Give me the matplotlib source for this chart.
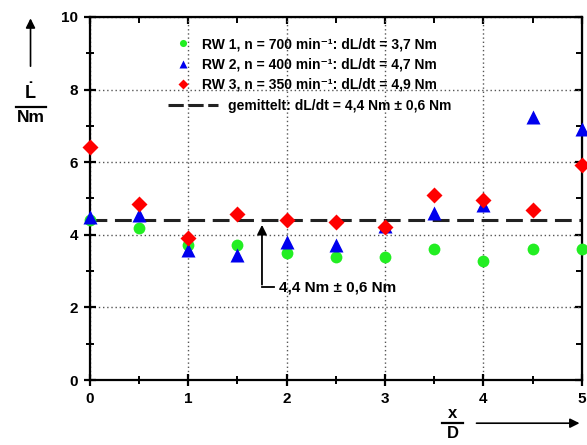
import matplotlib.pyplot as plt
from matplotlib.lines import Line2D

plt.rcParams['font.family'] = ['Liberation Sans', 'DejaVu Sans']
plt.rcParams['font.weight'] = 'bold'
plt.rcParams['mathtext.fontset'] = 'custom'
plt.rcParams['mathtext.rm'] = 'Liberation Sans:bold'
plt.rcParams['mathtext.bf'] = 'Liberation Sans:bold'
plt.rcParams['mathtext.default'] = 'bf'

# data
x = [0, 0.5, 1, 1.5, 2, 2.5, 3, 3.5, 4, 4.5, 5]
rw1 = [4.41, 4.2, 3.72, 3.72, 3.49, 3.4, 3.4, 3.61, 3.29, 3.61, 3.61]
rw2 = [4.49, 4.55, 3.58, 3.44, 3.81, 3.72, 4.25, 4.6, 4.82, 7.25, 6.91]
rw3 = [6.43, 4.85, 3.91, 4.57, 4.41, 4.36, 4.22, 5.1, 4.96, 4.68, 5.92]
mean_val = 4.4

labels = ['RW 1, n = 700 min\u207b\u00b9: dL/dt = 3,7 Nm',
          'RW 2, n = 400 min\u207b\u00b9: dL/dt = 4,7 Nm',
          'RW 3, n = 350 min\u207b\u00b9: dL/dt = 4,9 Nm']
mean_label = 'gemittelt: dL/dt = 4,4 Nm ± 0,6 Nm'

fig = plt.figure(figsize=(5.87, 4.45), dpi=100)
ax = fig.add_axes([0.153, 0.146, 0.838, 0.816])

ax.plot([0, 5], [mean_val, mean_val], color='#222222', lw=2.2,
        dashes=(5.5, 2.5), zorder=2)
h1, = ax.plot(x, rw1, 'o', color='#22ee22', ms=8.5, mec='none', clip_on=False, zorder=3)
h2, = ax.plot(x, rw2, '^', color='#0000ee', ms=9.5, mec='none', clip_on=False, zorder=4)
h3, = ax.plot(x, rw3, 'D', color='#ff0000', ms=8, mec='none', clip_on=False, zorder=5)

ax.set_xlim(0, 5)
ax.set_ylim(0, 10)
ax.set_xticks([0, 1, 2, 3, 4, 5])
ax.set_xticks([0.5, 1.5, 2.5, 3.5, 4.5], minor=True)
ax.set_yticks([0, 2, 4, 6, 8, 10])
ax.set_yticks([1, 3, 5, 7, 9], minor=True)
ax.grid(True, which='major', color='#555555', ls=(0, (1, 2)), lw=1)
for s in ax.spines.values():
    s.set_linewidth(1.6)
ax.tick_params(which='major', direction='inout', length=9, width=1.6,
               labelsize=11, pad=4)
ax.tick_params(which='minor', direction='inout', length=6, width=1.4)

# ticks on top and right, pointing inward
top = ax.secondary_xaxis('top')
top.set_xticks([0, 1, 2, 3, 4, 5])
top.set_xticks([0.5, 1.5, 2.5, 3.5, 4.5], minor=True)
top.tick_params(which='major', direction='in', length=5, width=1.6, labeltop=False)
top.tick_params(which='minor', direction='in', length=4, width=1.4)
right = ax.secondary_yaxis('right')
right.set_yticks([0, 2, 4, 6, 8, 10])
right.set_yticks([1, 3, 5, 7, 9], minor=True)
right.tick_params(which='major', direction='in', length=5, width=1.6, labelright=False)
right.tick_params(which='minor', direction='in', length=4, width=1.4)

# legend: markers first, the mean line in its own legend below
leg1 = ax.legend([h1, h2, h3], labels, loc='upper left',
                 bbox_to_anchor=(0.167, 0.944), frameon=False, fontsize=10,
                 handlelength=1.6, handletextpad=0.55, labelspacing=0.45,
                 borderpad=0, borderaxespad=0, markerscale=0.6)
ax.add_artist(leg1)
mean_handle = Line2D([], [], color='#222222', lw=2.2, dashes=(5, 1.5))
leg2 = ax.legend([mean_handle], [mean_label], loc='upper left',
                 bbox_to_anchor=(0.159, 0.775), frameon=False, fontsize=10,
                 handlelength=3.6, handletextpad=0.7,
                 borderpad=0, borderaxespad=0)

# annotation for mean value
ax.annotate('', xy=(1.75, mean_val - 0.05), xytext=(1.75, 2.55),
            arrowprops=dict(arrowstyle='-|>', color='black', lw=1.3,
                            mutation_scale=14))
ax.plot([1.75, 1.87], [2.55, 2.55], color='black', lw=1.3, clip_on=False)
ax.text(1.92, 2.55, '4,4 Nm ± 0,6 Nm', fontsize=11, fontweight='bold',
        va='center', ha='left')

# y axis label with arrow
fig.text(0.052, 0.768, r'$\dot{\mathbf{L}}$', fontsize=13, ha='center', va='bottom')
fig.lines.append(Line2D([0.028, 0.078], [0.76, 0.76], color='black', lw=1.6,
                        transform=fig.transFigure))
fig.text(0.052, 0.752, 'Nm', fontsize=12.5, ha='center', va='top', fontweight='bold')
ax.annotate('', xy=(0.052, 0.965), xytext=(0.052, 0.845),
            xycoords='figure fraction', textcoords='figure fraction',
            arrowprops=dict(arrowstyle='-|>', color='black', lw=1.2, mutation_scale=14))

# x axis label with arrow
fig.text(0.771, 0.055, 'x', fontsize=12, ha='center', va='bottom', fontweight='bold')
fig.lines.append(Line2D([0.753, 0.789], [0.049, 0.049], color='black', lw=1.6,
                        transform=fig.transFigure))
fig.text(0.771, 0.042, 'D', fontsize=12, ha='center', va='top', fontweight='bold')
ax.annotate('', xy=(0.992, 0.049), xytext=(0.807, 0.049),
            xycoords='figure fraction', textcoords='figure fraction',
            arrowprops=dict(arrowstyle='-|>', color='black', lw=1.2, mutation_scale=14))

fig.savefig('out.png', dpi=100)
